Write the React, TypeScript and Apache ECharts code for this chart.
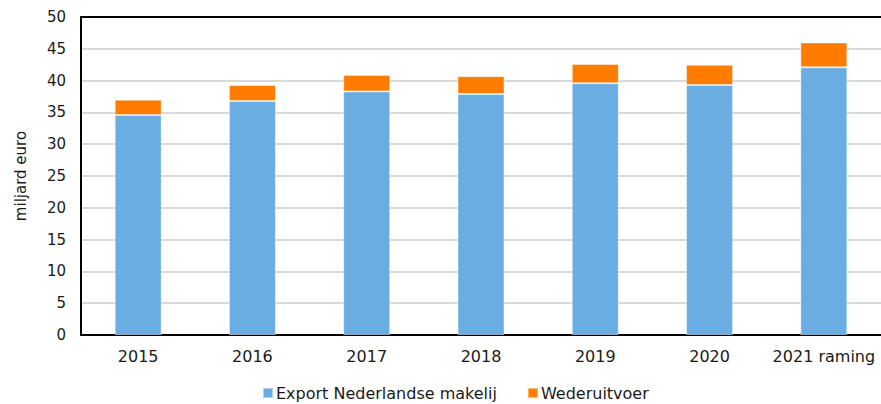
import React, { useEffect, useRef } from "react";
import * as echarts from "echarts";

const categories = ["2015", "2016", "2017", "2018", "2019", "2020", "2021 raming"];
const exportValues = [34.6, 36.8, 38.3, 37.9, 39.6, 39.3, 42.1];
const wederuitvoer = [2.4, 2.5, 2.6, 2.8, 3.0, 3.2, 3.9];
const seriesNames = ["Export Nederlandse makelij", "Wederuitvoer"];

const FONT = "DejaVu Sans, Verdana, sans-serif";

export default function App() {
  const ref = useRef<HTMLDivElement>(null);
  useEffect(() => {
    if (!ref.current) return;
    const chart = echarts.init(ref.current, undefined, { renderer: "svg" });
    chart.setOption({
      animation: false,
      textStyle: { fontFamily: FONT },
      grid: { left: 81, top: 17, bottom: 69, right: -3 },
      legend: {
        left: 262,
        top: 385,
        itemWidth: 10,
        itemHeight: 10,
        itemGap: 30,
        icon: "rect",
        padding: 0,
        textStyle: { fontFamily: FONT, fontSize: 16, color: "#1a1a1a", padding: [0, 0, 0, -2] },
        data: seriesNames,
      },
      xAxis: [
        {
          type: "category",
          data: categories,
          axisLine: { lineStyle: { color: "#000", width: 2 } },
          axisTick: { show: false },
          axisLabel: { interval: 0, fontFamily: FONT, fontSize: 16, color: "#1a1a1a", margin: 13 },
        },
        {
          type: "category",
          position: "top",
          data: categories,
          axisLine: { lineStyle: { color: "#000", width: 2 } },
          axisTick: { show: false },
          axisLabel: { show: false },
        },
      ],
      yAxis: {
        type: "value",
        min: 0,
        max: 50,
        interval: 5,
        name: "miljard euro",
        nameLocation: "middle",
        nameGap: 53,
        nameTextStyle: { fontFamily: FONT, fontSize: 15, color: "#1a1a1a" },
        axisLine: { show: true, lineStyle: { color: "#000", width: 2 } },
        axisTick: { show: false },
        axisLabel: { fontFamily: FONT, fontSize: 15, color: "#1a1a1a", margin: 15 },
        splitLine: { lineStyle: { color: "#d9d9d9", width: 2 } },
      },
      series: [
        {
          name: seriesNames[0],
          type: "bar",
          stack: "total",
          data: exportValues,
          barWidth: 47,
          itemStyle: { color: "#6aade3", borderColor: "rgba(255,255,255,0.45)", borderWidth: 1 },
        },
        {
          name: seriesNames[1],
          type: "bar",
          stack: "total",
          data: wederuitvoer,
          barWidth: 47,
          itemStyle: { color: "#ff7c00", borderColor: "rgba(255,255,255,0.45)", borderWidth: 1 },
        },
      ],
    });
    return () => chart.dispose();
  }, []);
  return <div ref={ref} style={{ width: 881, height: 404, position: "absolute", left: 0, top: 0 }} />;
}
